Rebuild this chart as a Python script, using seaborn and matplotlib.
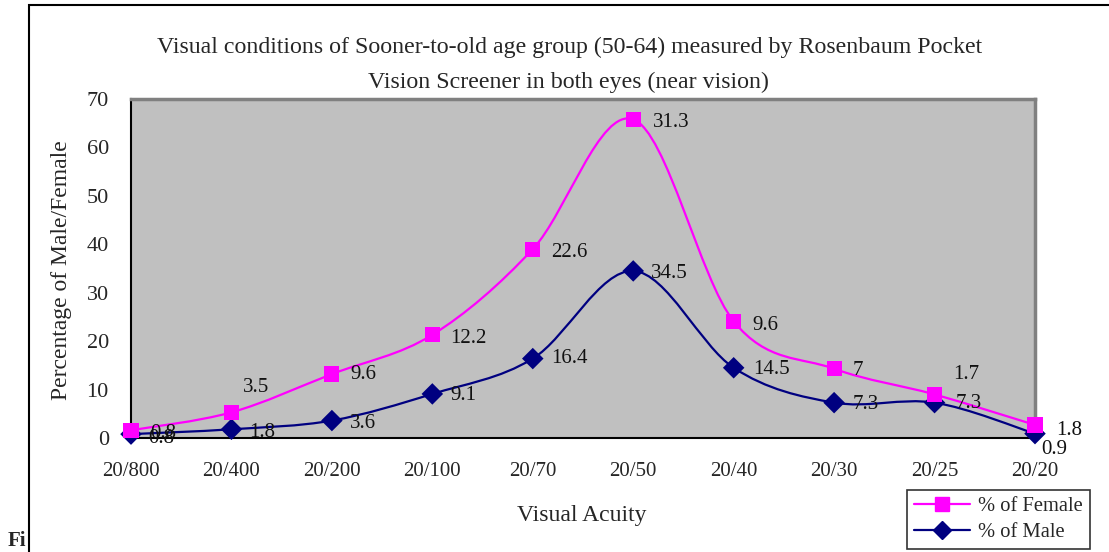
import matplotlib
matplotlib.use("Agg")
import matplotlib.pyplot as plt
import seaborn as sns
import pandas as pd
import numpy as np
from matplotlib.path import Path
from matplotlib.patches import PathPatch
from matplotlib.lines import Line2D

# data (female line is stacked on top of male in the original)
acuity = ["20/800", "20/400", "20/200", "20/100", "20/70", "20/50", "20/40", "20/30", "20/25", "20/20"]
male = [0.8, 1.8, 3.6, 9.1, 16.4, 34.5, 14.5, 7.3, 7.3, 0.9]
female = [0.8, 3.5, 9.6, 12.2, 22.6, 31.3, 9.6, 7, 1.7, 1.8]
yticks = [0, 10, 20, 30, 40, 50, 60, 70]

# label offsets in pixels (dx right, dy down)
female_off = [(19, 3), (11, -25), (18, 0), (18, 4), (18, 3), (20, 3), (19, 4), (19, 2), (19, -20), (21, 6)]
male_off = [(17, 4), (18, 3), (18, 3), (18, 2), (18, 0), (18, 3), (20, 2), (19, 2), (21, 1), (6, 16)]

FEM = "#FF00FF"
MAL = "#000080"

sns.set_style("white")
plt.rcParams["font.family"] = ["Liberation Serif", "DejaVu Serif"]

x = np.arange(len(acuity))
fem_top = [m + f for m, f in zip(male, female)]
df = pd.DataFrame({
    "x": np.concatenate([x, x]),
    "y": male + fem_top,
    "series": ["% of Male"] * len(x) + ["% of Female"] * len(x),
})


def smooth_path(xs, ys, t=1/6):
    # excel-like smoothed line as cubic bezier segments (catmull-rom)
    pts = np.column_stack([xs, ys]).astype(float)
    n = len(pts)
    verts = [pts[0]]
    codes = [Path.MOVETO]
    for i in range(n - 1):
        p0 = pts[i - 1] if i > 0 else pts[i]
        p1 = pts[i]
        p2 = pts[i + 1]
        p3 = pts[i + 2] if i + 2 < n else pts[i + 1]
        c1 = p1 + (p2 - p0) * t
        c2 = p2 - (p3 - p1) * t
        verts += [c1, c2, p2]
        codes += [Path.CURVE4] * 3
    return Path(verts, codes)


fig = plt.figure(figsize=(11.09, 5.52), dpi=100)
ax = fig.add_axes([131/1109, 1 - 438/552, (1035 - 131)/1109, (438 - 99)/552])
ax.set_facecolor("#C0C0C0")

ax.add_patch(PathPatch(smooth_path(x, fem_top), fill=False, edgecolor=FEM, lw=1.6, zorder=2, clip_on=False))
ax.add_patch(PathPatch(smooth_path(x, male), fill=False, edgecolor=MAL, lw=1.6, zorder=2, clip_on=False))

sns.scatterplot(data=df, x="x", y="y", hue="series", style="series",
                palette={"% of Male": MAL, "% of Female": FEM},
                markers={"% of Male": "D", "% of Female": "s"},
                hue_order=["% of Male", "% of Female"],
                s=120, edgecolor="none", legend=False, ax=ax, zorder=3, clip_on=False)

for i in range(len(x)):
    dx, dy = female_off[i]
    ax.annotate(f"{female[i]:g}", (x[i], fem_top[i]), xytext=(dx * 0.72, -dy * 0.72),
                textcoords="offset points", ha="left", va="center", fontsize=15, color="#111111")
    dx, dy = male_off[i]
    ax.annotate(f"{male[i]:g}", (x[i], male[i]), xytext=(dx * 0.72, -dy * 0.72),
                textcoords="offset points", ha="left", va="center", fontsize=15, color="#111111")

ax.set_xlim(0, len(x) - 1)
ax.set_ylim(0, 70)
ax.set_xticks(x)
ax.set_xticklabels(acuity, fontsize=15)
ax.set_yticks(yticks)
ax.set_yticklabels([str(v) for v in yticks], fontsize=16)
ax.tick_params(axis="x", direction="inout", length=8, width=1, pad=13, color="black")
ax.tick_params(axis="y", direction="in", length=5, width=1, pad=16, color="black")
ax.set_xlabel("")
ax.set_ylabel("")
for s in ["left", "bottom"]:
    ax.spines[s].set_color("black")
    ax.spines[s].set_linewidth(1.5)
for s in ["top", "right"]:
    ax.spines[s].set_color("#808080")
    ax.spines[s].set_linewidth(2.5)

fig.text(570/1109, 1 - 47/552, "Visual conditions of Sooner-to-old age group (50-64) measured by Rosenbaum Pocket",
         ha="center", va="center", fontsize=17.2)
fig.text(568/1109, 1 - 82/552, "Vision Screener in both eyes (near vision)",
         ha="center", va="center", fontsize=17.2)
fig.text(582/1109, 1 - 516/552, "Visual Acuity", ha="center", va="center", fontsize=17)
fig.text(62/1109, 1 - 270/552, "Percentage of Male/Female", ha="center", va="center",
         rotation=90, fontsize=17)
fig.text(8/1109, 1 - 541/552, "Fi", ha="left", va="center", fontsize=15, fontweight="bold")

# outer chart border
fig.add_artist(plt.Rectangle((28.5/1109, -0.01), 1.0, 1 - 4.5/552 + 0.01, transform=fig.transFigure,
                             fill=False, edgecolor="black", lw=1.5))

handles = [Line2D([0], [0], color=FEM, marker="s", markersize=10, lw=1.6),
           Line2D([0], [0], color=MAL, marker="D", markersize=9, lw=1.6)]
leg = fig.legend(handles, ["% of Female", "% of Male"], loc="lower left",
                 bbox_to_anchor=(907/1109, 1 - 549/552), fontsize=14.8, frameon=True,
                 fancybox=False, edgecolor="black", handlelength=2.7, handletextpad=0.4,
                 borderpad=0.35, labelspacing=0.3, borderaxespad=0)
leg.get_frame().set_linewidth(1.2)

fig.savefig("out.png", dpi=100)
